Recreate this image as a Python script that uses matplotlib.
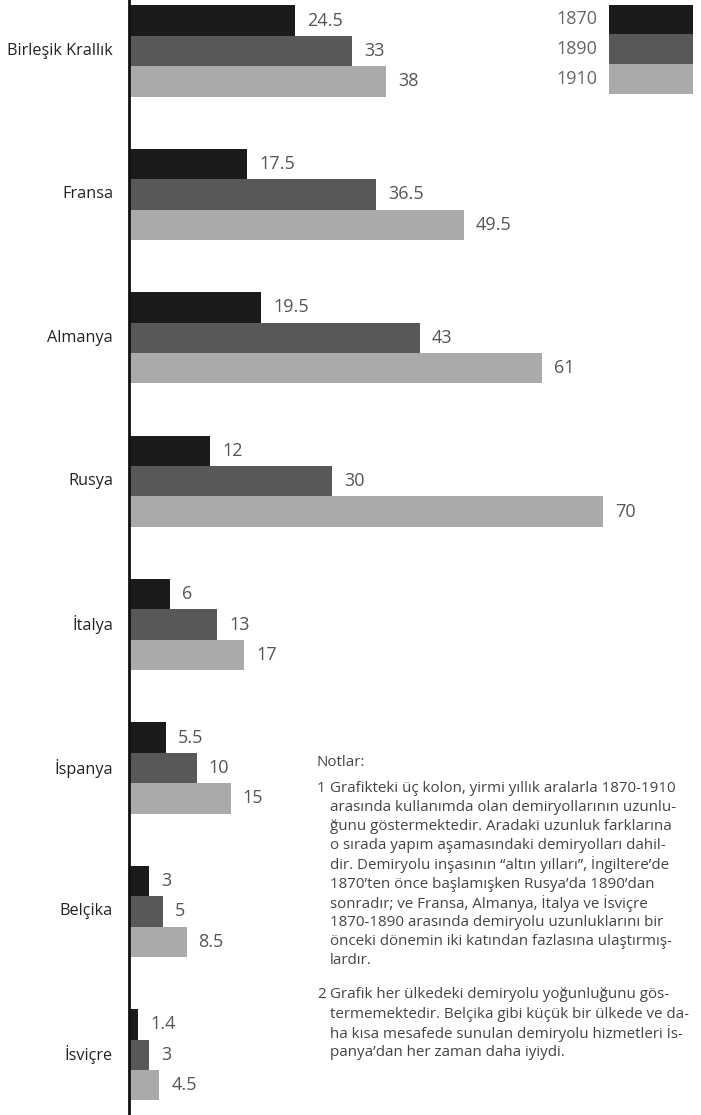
import numpy as np
import matplotlib.pyplot as plt
from matplotlib.patches import Rectangle

countries = ['Birleşik Krallık', 'Fransa', 'Almanya', 'Rusya',
             'İtalya', 'İspanya', 'Belçika', 'İsviçre']
years = ['1870', '1890', '1910']
v1870 = [24.5, 17.5, 19.5, 12, 6, 5.5, 3, 1.4]
v1890 = [33, 36.5, 43, 30, 13, 10, 5, 3]
v1910 = [38, 49.5, 61, 70, 17, 15, 8.5, 4.5]
labels1870 = ['24.5', '17.5', '19.5', '12', '6', '5.5', '3', '1.4']
labels1890 = ['33', '36.5', '43', '30', '13', '10', '5', '3']
labels1910 = ['38', '49.5', '61', '70', '17', '15', '8.5', '4.5']

colors = ['#1b1b1b', '#585858', '#aaaaaa']
txt = '#555555'

notes_title = 'Notlar:'
note1 = ['Grafikteki üç kolon, yirmi yıllık aralarla 1870-1910',
         'arasında kullanımda olan demiryollarının uzunlu-',
         'ğunu göstermektedir. Aradaki uzunluk farklarına',
         'o sırada yapım aşamasındaki demiryolları dahil-',
         'dir. Demiryolu inşasının “altın yılları”, İngiltere’de',
         '1870’ten önce başlamışken Rusya’da 1890’dan',
         'sonradır; ve Fransa, Almanya, İtalya ve İsviçre',
         '1870-1890 arasında demiryolu uzunluklarını bir',
         'önceki dönemin iki katından fazlasına ulaştırmış-',
         'lardır.']
note2 = ['Grafik her ülkedeki demiryolu yoğunluğunu gös-',
         'termemektedir. Belçika gibi küçük bir ülkede ve da-',
         'ha kısa mesafede sunulan demiryolu hizmetleri İs-',
         'panya’dan her zaman daha iyiydi.']

plt.rcParams['font.family'] = ['Open Sans', 'DejaVu Sans']

W, H = 701, 1115
fig = plt.figure(figsize=(W / 100, H / 100), dpi=100)
x0 = 129
ax = fig.add_axes([x0 / W, 0, (W - x0) / W, 1])
px = 6.77
ax.set_xlim(0, (W - x0) / px)
step = 143.4
ax.set_ylim((H - 51) / step, -51 / step)

y = np.arange(len(countries))
bh = 0.212
series = [(v1870, labels1870), (v1890, labels1890), (v1910, labels1910)]
for k, (vals, labs) in enumerate(series):
    yy = y + (k - 1) * bh
    ax.barh(yy, vals, height=bh, color=colors[k], edgecolor='none')
    for yi, v, s in zip(yy, vals, labs):
        ax.text(v + 12 / px, yi, s, va='center', ha='left',
                fontsize=13, color=txt)

for yi, c in zip(y, countries):
    ax.text(-16 / px, yi, c, va='center', ha='right', fontsize=11.7,
            color='#222222', clip_on=False)

for s in ['top', 'right', 'bottom']:
    ax.spines[s].set_visible(False)
ax.spines['left'].set_linewidth(2)
ax.spines['left'].set_color('#111111')
ax.set_xticks([])
ax.set_yticks([])
ax.patch.set_alpha(0)

# legend
for k, yr in enumerate(years):
    top = 5 + k * 29.5
    fig.add_artist(Rectangle((609 / W, 1 - (top + 29.5) / H), 84 / W, 29.5 / H,
                             transform=fig.transFigure, color=colors[k], lw=0))
    fig.text(597 / W, 1 - (top + 14.5) / H, yr, ha='right', va='center',
             fontsize=13, color='#666666')

# notes
nfs = 10.9
fig.text(317 / W, 1 - 762 / H, notes_title, ha='left', va='center',
         fontsize=nfs, color='#444444')
lh = 19.2
for i, line in enumerate(note1):
    fig.text(330 / W, 1 - (788 + i * lh) / H, line, ha='left', va='center',
             fontsize=nfs, color='#444444')
fig.text(317 / W, 1 - 788 / H, '1', ha='left', va='center', fontsize=nfs, color='#444444')
for i, line in enumerate(note2):
    fig.text(330 / W, 1 - (995 + i * lh) / H, line, ha='left', va='center',
             fontsize=nfs, color='#444444')
fig.text(317 / W, 1 - 995 / H, '2', ha='left', va='center', fontsize=nfs, color='#444444')

fig.savefig('out.png', dpi=100)
